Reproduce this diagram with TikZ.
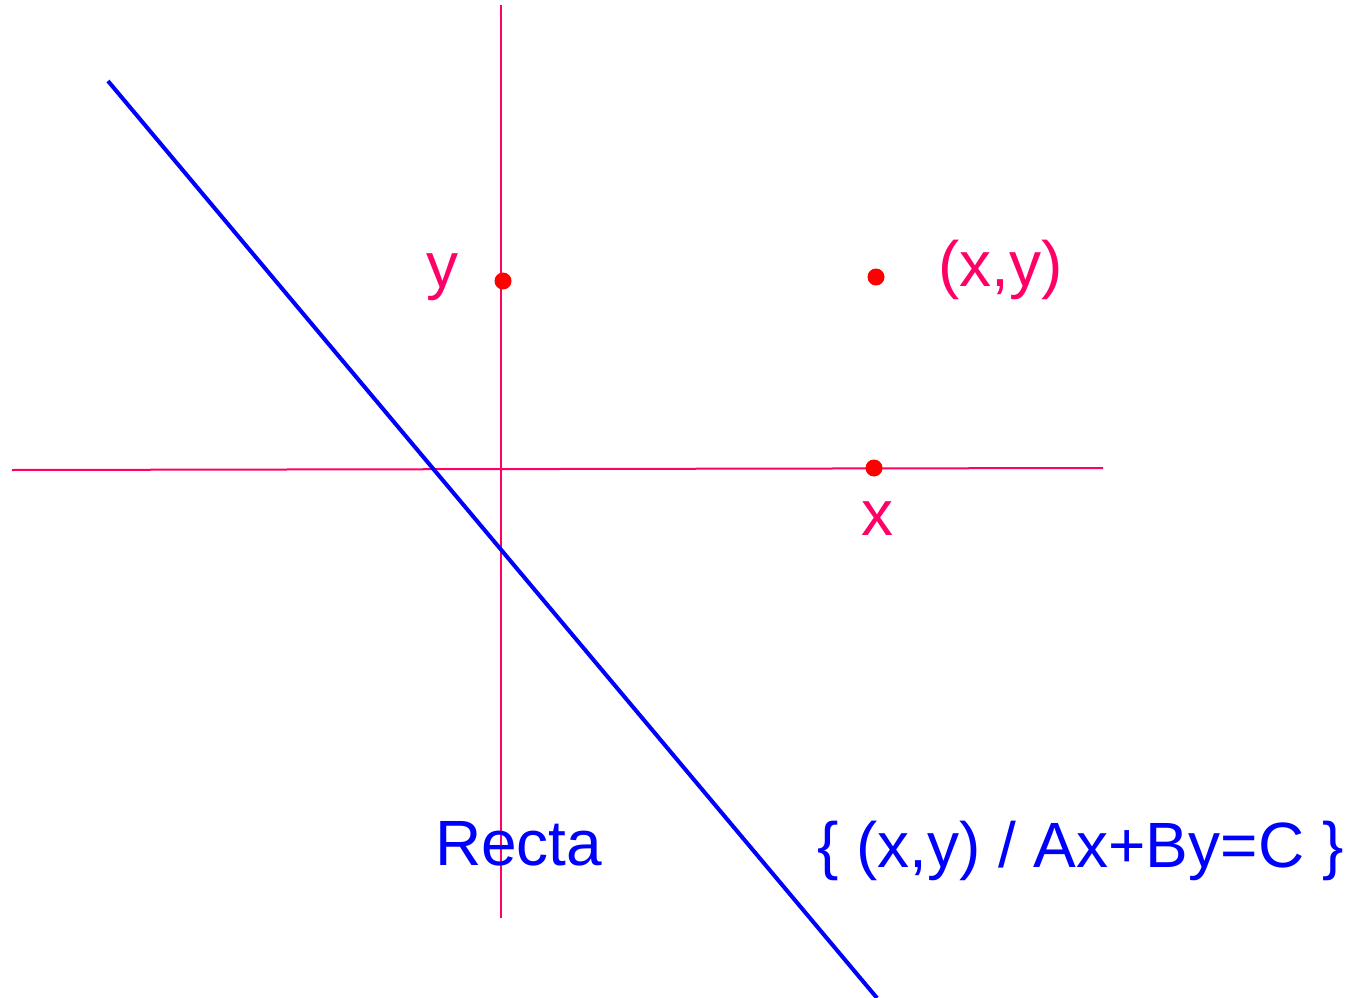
\documentclass[tikz,border=0pt]{standalone}
\usepackage{fontspec}
\setmainfont{Liberation Sans}
\definecolor{pinkline}{RGB}{255,0,102}
\definecolor{dotred}{RGB}{255,0,0}
\definecolor{lineblue}{RGB}{0,0,255}
\begin{document}
\begin{tikzpicture}[x=1pt,y=-1pt,
  axis/.style={draw=pinkline,line width=2pt},
  recta/.style={draw=lineblue,line width=4pt},
  pt/.style={circle,fill=dotred,inner sep=0pt,minimum size=17pt},
  lbl/.style={inner sep=0pt,outer sep=0pt,font=\fontsize{64}{72}\selectfont},
  pinklbl/.style={lbl,text=pinkline},
  bluelbl/.style={lbl,text=lineblue}]
\useasboundingbox (0,0) rectangle (1366,998);
\coordinate (vt) at (501,5);
\coordinate (vb) at (501,918);
\coordinate (hl) at (12,470);
\coordinate (hr) at (1103,468);
\coordinate (bt) at (108,81);
\coordinate (bb) at (877,998);
\draw[axis] (vt) -- (vb);
\draw[axis] (hl) -- (hr);
\draw[recta] (bt) -- (bb);
\node[pt] (py) at (503,281) {};
\node[pt] (pxy) at (876,277) {};
\node[pt] (px) at (874,468) {};
\node[pinklbl,anchor=base] (ly) at (442,287) {y};
\node[pinklbl,anchor=base west] (lxy) at (938,286) {(x,y)};
\node[pinklbl,anchor=base] (lx) at (877,535) {x};
\node[bluelbl,anchor=base west] (lr) at (435,865) {Recta};
\node[bluelbl,anchor=base west] (lf) at (817,867) {\{ (x,y) / Ax+By=C \}};
\end{tikzpicture}
\end{document}
